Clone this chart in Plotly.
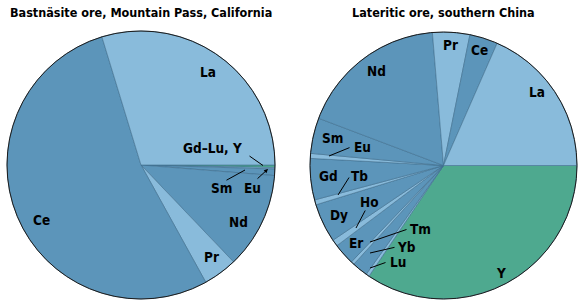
import plotly.graph_objects as go

# ---- data (percent of total REE) ----
left_title = "Bastnäsite ore, Mountain Pass, California"
left_labels = ["La", "Ce", "Pr", "Nd", "Sm", "Eu", "Gd–Lu, Y"]
left_values = [29.7, 53.3, 4.1, 11.6, 0.78, 0.17, 0.31]

right_title = "Lateritic ore, southern China"
right_labels = ["La", "Ce", "Pr", "Nd", "Sm", "Eu", "Gd", "Tb", "Dy", "Ho",
                "Er", "Tm", "Yb", "Lu", "Y"]
right_values = [18.4, 3.4, 4.5, 17.9, 4.3, 0.6, 5.0, 0.6, 4.7, 0.8,
                2.6, 0.4, 1.9, 0.4, 34.4]

# ---- styles ----
DARK = "#5c95ba"
LIGHT = "#89bbdb"
GREEN = "#4ea98f"
left_colors = [LIGHT, DARK, LIGHT, DARK, DARK, LIGHT, GREEN]
right_colors = [LIGHT, DARK, LIGHT, DARK, DARK, LIGHT, DARK, LIGHT, DARK,
                LIGHT, DARK, LIGHT, DARK, LIGHT, GREEN]

W, H = 579, 300
FONT = "DejaVu Sans Condensed, Roboto Condensed, sans-serif"


def px_x(x):
    return x / W


def px_y(y):
    return 1 - y / H


left_domain = dict(x=[px_x(7), px_x(275)], y=[px_y(299), px_y(31)])
right_domain = dict(x=[px_x(310), px_x(577)], y=[px_y(299), px_y(32)])

fig = go.Figure()
# slices run counterclockwise from 3 o'clock in the reference; plotly draws the
# reversed list clockwise from 3 o'clock, which gives the same arrangement
common = dict(sort=False, direction="clockwise", rotation=90,
              textinfo="none", hoverinfo="label+percent", showlegend=False)
fig.add_trace(go.Pie(labels=left_labels[::-1], values=left_values[::-1],
                     marker=dict(colors=left_colors[::-1],
                                 line=dict(color="#3f6f8e", width=0.6)),
                     domain=left_domain, **common))
fig.add_trace(go.Pie(labels=right_labels[::-1], values=right_values[::-1],
                     marker=dict(colors=right_colors[::-1],
                                 line=dict(color="#3f6f8e", width=0.6)),
                     domain=right_domain, **common))

# dark outline round each pie (same box as the pie domain)
shapes = []
for dom in (left_domain, right_domain):
    wpx = (dom["x"][1] - dom["x"][0]) * W
    hpx = (dom["y"][1] - dom["y"][0]) * H
    r = min(wpx, hpx) / 2
    cx = (dom["x"][0] + dom["x"][1]) / 2
    cy = (dom["y"][0] + dom["y"][1]) / 2
    shapes.append(dict(type="circle", xref="paper", yref="paper",
                       x0=cx - r / W, x1=cx + r / W, y0=cy - r / H, y1=cy + r / H,
                       line=dict(color="#1c1c1c", width=1), fillcolor="rgba(0,0,0,0)",
                       layer="above"))

annotations = []
# titles
for title, cx in [(left_title, 141), (right_title, 443)]:
    annotations.append(dict(text=f"<b>{title}</b>", x=px_x(cx), y=px_y(12),
                            xref="paper", yref="paper", showarrow=False,
                            xanchor="center", yanchor="middle",
                            font=dict(family=FONT, size=12.5, color="#000")))

# label positions (pixel centres) for each category
left_pos = {"La": (208, 72), "Ce": (41, 220), "Pr": (211, 257), "Nd": (238, 222),
            "Gd–Lu, Y": (212, 148), "Sm": (221, 188), "Eu": (252, 188)}
right_pos = {"Pr": (450, 45), "Ce": (479, 50), "Nd": (376, 71), "La": (537, 92),
             "Sm": (332, 138), "Eu": (362, 147), "Gd": (328, 176), "Tb": (359, 176),
             "Dy": (339, 215), "Ho": (369, 202), "Er": (356, 243), "Tm": (420, 229),
             "Yb": (406, 247), "Lu": (398, 262), "Y": (501, 273)}
for labels, pos in [(left_labels, left_pos), (right_labels, right_pos)]:
    for lab in labels:
        x, y = pos[lab]
        annotations.append(dict(text=f"<b>{lab}</b>", x=px_x(x), y=px_y(y),
                                xref="paper", yref="paper", showarrow=False,
                                xanchor="center", yanchor="middle",
                                font=dict(family=FONT, size=13.5, color="#000")))

# leader lines: (head x, head y, tail x, tail y, arrowhead)
leaders = [(263, 165.5, 248, 155, 0), (245, 170, 225, 181, 0), (268, 169, 256, 180, 2),
           (329, 156, 351, 147, 0), (338, 195, 350, 176, 0), (356, 228, 366, 209, 0),
           (370, 242, 408, 229, 0), (370, 253, 396, 247, 0), (370, 268, 387, 262, 0)]
for hx, hy, tx, ty, head in leaders:
    annotations.append(dict(text="", x=px_x(hx), y=px_y(hy), xref="paper", yref="paper",
                            showarrow=True, arrowhead=head, arrowsize=0.8,
                            arrowwidth=1, arrowcolor="#000",
                            ax=tx - hx, ay=ty - hy, standoff=0, startstandoff=0))

fig.update_layout(width=W, height=H, margin=dict(l=0, r=0, t=0, b=0),
                  paper_bgcolor="white", plot_bgcolor="white",
                  annotations=annotations, shapes=shapes)
fig.write_html("out.html")
